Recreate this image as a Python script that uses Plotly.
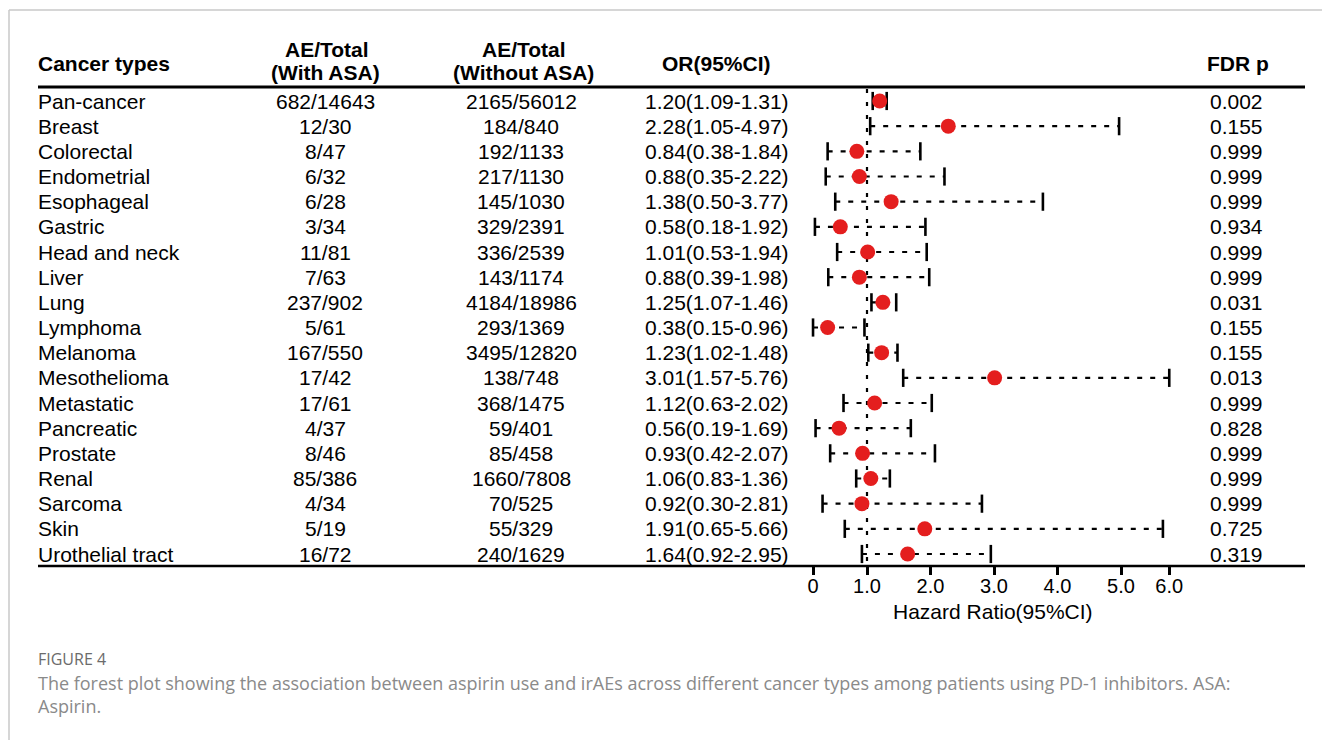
import plotly.graph_objects as go

cancers = ["Pan-cancer", "Breast", "Colorectal", "Endometrial", "Esophageal", "Gastric",
           "Head and neck", "Liver", "Lung", "Lymphoma", "Melanoma", "Mesothelioma",
           "Metastatic", "Pancreatic", "Prostate", "Renal", "Sarcoma", "Skin", "Urothelial tract"]
with_asa = ["682/14643", "12/30", "8/47", "6/32", "6/28", "3/34", "11/81", "7/63", "237/902",
            "5/61", "167/550", "17/42", "17/61", "4/37", "8/46", "85/386", "4/34", "5/19", "16/72"]
without_asa = ["2165/56012", "184/840", "192/1133", "217/1130", "145/1030", "329/2391",
               "336/2539", "143/1174", "4184/18986", "293/1369", "3495/12820", "138/748",
               "368/1475", "59/401", "85/458", "1660/7808", "70/525", "55/329", "240/1629"]
or_val = [1.20, 2.28, 0.84, 0.88, 1.38, 0.58, 1.01, 0.88, 1.25, 0.38, 1.23, 3.01, 1.12,
          0.56, 0.93, 1.06, 0.92, 1.91, 1.64]
ci_lo = [1.09, 1.05, 0.38, 0.35, 0.50, 0.18, 0.53, 0.39, 1.07, 0.15, 1.02, 1.57, 0.63,
         0.19, 0.42, 0.83, 0.30, 0.65, 0.92]
ci_hi = [1.31, 4.97, 1.84, 2.22, 3.77, 1.92, 1.94, 1.98, 1.46, 0.96, 1.48, 5.76, 2.02,
         1.69, 2.07, 1.36, 2.81, 5.66, 2.95]
fdr_p = ["0.002", "0.155", "0.999", "0.999", "0.999", "0.934", "0.999", "0.999", "0.031",
         "0.155", "0.155", "0.013", "0.999", "0.828", "0.999", "0.999", "0.999", "0.725", "0.319"]
tick_vals = [0.15, 1.0, 2.0, 3.0, 4.0, 5.0, 5.76]
tick_text = ["0", "1.0", "2.0", "3.0", "4.0", "5.0", "6.0"]

W, H = 1322, 740
FONT = "Liberation Sans, Arial, sans-serif"
CAPFONT = "Open Sans, Noto Sans, sans-serif"


def px(p):
    return p / W


def py(p):
    return 1 - p / H


rows = list(range(len(cancers)))

# whiskers
wx, wy = [], []
for i, (lo, hi) in enumerate(zip(ci_lo, ci_hi)):
    wx += [lo, hi, None]
    wy += [i, i, None]

fig = go.Figure()
fig.add_trace(go.Scatter(x=wx, y=wy, mode="lines",
                         line=dict(color="black", width=2.2, dash="5px,8px"),
                         hoverinfo="skip", showlegend=False))
fig.add_trace(go.Scatter(x=ci_lo + ci_hi, y=rows + rows, mode="markers",
                         marker=dict(symbol="line-ns-open", size=13, color="black",
                                     line=dict(color="black", width=2.6)),
                         hoverinfo="skip", showlegend=False))
fig.add_trace(go.Scatter(x=or_val, y=rows, mode="markers",
                         marker=dict(symbol="circle", size=15, color="#E41E1E",
                                     line=dict(width=0)),
                         showlegend=False))

ann = []
hdr = dict(family=FONT, size=21, color="black")
ann.append(dict(text="<b>Cancer types</b>", x=px(36), y=py(63), xanchor="left"))
ann.append(dict(text="<b>AE/Total</b>", x=px(327), y=py(50), xanchor="center"))
ann.append(dict(text="<b>(With ASA)</b>", x=px(325), y=py(72), xanchor="center"))
ann.append(dict(text="<b>AE/Total</b>", x=px(524), y=py(50), xanchor="center"))
ann.append(dict(text="<b>(Without ASA)</b>", x=px(523), y=py(72), xanchor="center"))
ann.append(dict(text="<b>OR(95%CI)</b>", x=px(716), y=py(63), xanchor="center"))
ann.append(dict(text="<b>FDR p</b>", x=px(1238), y=py(63), xanchor="center"))
for a in ann:
    a.update(xref="paper", yref="paper", yanchor="middle", showarrow=False, font=hdr)

body = dict(family=FONT, size=21, color="black")
for i in rows:
    ors = f"{or_val[i]:.2f}({ci_lo[i]:.2f}-{ci_hi[i]:.2f})"
    for txt, xx, anc in [(cancers[i], 36, "left"), (with_asa[i], 325, "center"),
                         (without_asa[i], 521, "center"), (ors, 717, "center"),
                         (fdr_p[i], 1236, "center")]:
        ann.append(dict(text=txt, x=px(xx), y=i, xref="paper", yref="y",
                        xanchor=anc, yanchor="middle", showarrow=False, font=body))

ann.append(dict(text="Hazard Ratio(95%CI)", x=px(993), y=py(611), xref="paper", yref="paper",
                xanchor="center", yanchor="middle", showarrow=False,
                font=dict(family=FONT, size=21, color="black")))

ann.append(dict(text="FIGURE 4", x=px(36), y=py(659), xref="paper", yref="paper",
                xanchor="left", yanchor="middle", showarrow=False,
                font=dict(family=CAPFONT, size=16, color="#6b6b6b")))
ann.append(dict(text="The forest plot showing the association between aspirin use and irAEs across different cancer types among patients using PD-1 inhibitors. ASA:",
                x=px(36), y=py(683), xref="paper", yref="paper",
                xanchor="left", yanchor="middle", showarrow=False,
                font=dict(family=CAPFONT, size=18, color="#8a8a8a")))
ann.append(dict(text="Aspirin.", x=px(36), y=py(706), xref="paper", yref="paper",
                xanchor="left", yanchor="middle", showarrow=False,
                font=dict(family=CAPFONT, size=18, color="#8a8a8a")))

shapes = [
    # frame
    dict(type="line", xref="paper", yref="paper", x0=px(9), x1=1, y0=py(10), y1=py(10),
         line=dict(color="#c8c8c8", width=1.5)),
    dict(type="line", xref="paper", yref="paper", x0=px(9), x1=px(9), y0=py(10), y1=0,
         line=dict(color="#c8c8c8", width=1.5)),
    # table rules
    dict(type="line", xref="paper", yref="paper", x0=px(38), x1=px(1305), y0=py(87), y1=py(87),
         line=dict(color="black", width=3)),
    dict(type="line", xref="paper", yref="paper", x0=px(38), x1=px(1305), y0=py(566), y1=py(566),
         line=dict(color="black", width=2.5)),
    # null line
    dict(type="line", xref="x", yref="paper", x0=1, x1=1, y0=py(89), y1=py(563),
         line=dict(color="black", width=2.2, dash="4px,9px"), layer="below"),
]

# x scale: 1.0 at 867 px, 63.5 px per unit
ppu = 63.5
x_left = 1 - 867 / ppu
x_right = 1 + (W - 867) / ppu
# y scale: row 0 at 101 px, row 18 at 554 px
rstep = (554 - 101) / 18
y_top = 0 - 101 / rstep
y_bot = 18 + (H - 554) / rstep

fig.update_layout(
    width=W, height=H, margin=dict(l=0, r=0, t=0, b=0),
    paper_bgcolor="white", plot_bgcolor="white",
    annotations=ann, shapes=shapes, showlegend=False,
    xaxis=dict(range=[x_left, x_right], domain=[0, 1], anchor="free", position=1 - 566 / H,
               showgrid=False, zeroline=False, showline=False,
               tickmode="array", tickvals=tick_vals, ticktext=tick_text,
               ticks="outside", ticklen=8, tickwidth=2.5, tickcolor="black",
               ticklabelstandoff=-6,
               tickfont=dict(family=FONT, size=20, color="black")),
    yaxis=dict(range=[y_bot, y_top], domain=[0, 1], showgrid=False, zeroline=False,
               showline=False, showticklabels=False, ticks=""),
)

fig.write_html("out.html", config={"displayModeBar": False},
               post_script="document.body.style.margin='0';")
